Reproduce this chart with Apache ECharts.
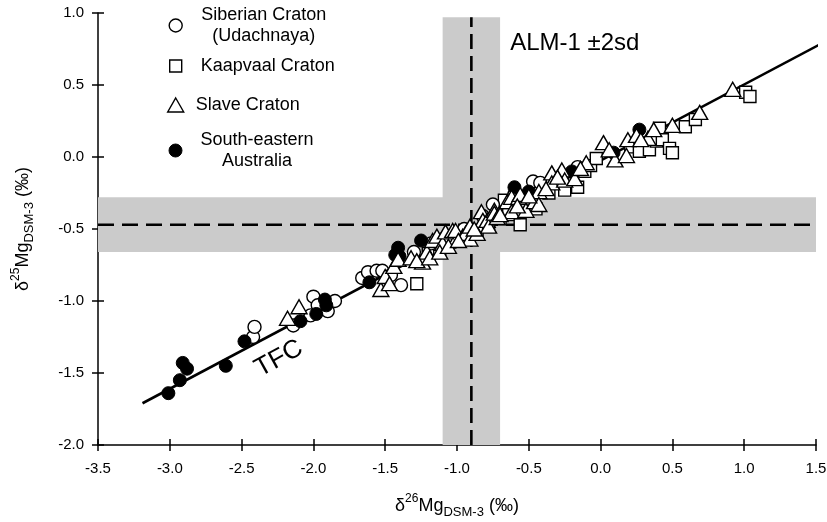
<!DOCTYPE html>
<html>
<head>
<meta charset="utf-8">
<script src="https://cdn.jsdelivr.net/npm/echarts@6/dist/echarts.min.js"></script>
<style>
html,body{margin:0;padding:0;background:#fff;}
#chart{width:827px;height:522px;}
</style>
</head>
<body>
<div id="chart"></div>
<script>
// ---- data ----
const xTicks = [-3.5, -3.0, -2.5, -2.0, -1.5, -1.0, -0.5, 0.0, 0.5, 1.0, 1.5];
const yTicks = [-2.0, -1.5, -1.0, -0.5, 0.0, 0.5, 1.0];

const seriesNames = ['Siberian Craton (Udachnaya)', 'Kaapvaal Craton', 'Slave Craton', 'South-eastern Australia'];

const siberian = [
  [-2.42,-1.25],[-2.41,-1.18],[-2.14,-1.17],[-2.02,-1.10],[-2.00,-0.97],[-1.97,-1.03],
  [-1.90,-1.07],[-1.85,-1.00],[-1.66,-0.84],[-1.62,-0.80],[-1.56,-0.79],[-1.52,-0.79],
  [-1.46,-0.82],[-1.39,-0.89],[-1.30,-0.66],[-1.18,-0.60],[-0.95,-0.50],[-0.75,-0.33],
  [-0.60,-0.26],[-0.47,-0.17],[-0.42,-0.18],[-0.16,-0.07],[-1.08,-0.56],[-0.82,-0.41]
];
const kaapvaal = [
  [-1.28,-0.88],[-1.20,-0.67],[-1.05,-0.59],[-0.95,-0.56],[-0.86,-0.51],[-0.70,-0.43],
  [-0.67,-0.30],[-0.64,-0.40],[-0.56,-0.47],[-0.45,-0.36],[-0.25,-0.23],[-0.16,-0.21],
  [-0.11,-0.10],[-0.07,-0.06],[-0.03,-0.01],[0.21,0.07],[0.27,0.04],[0.34,0.05],
  [0.39,0.11],[0.41,0.20],[0.43,0.12],[0.48,0.06],[0.50,0.03],[0.59,0.21],[0.66,0.26],
  [1.01,0.45],[1.04,0.42],[-1.12,-0.64],[-0.78,-0.46],[-0.36,-0.25]
];
const slave = [
  [-2.18,-1.12],[-2.10,-1.04],[-1.53,-0.92],[-1.50,-0.83],[-1.47,-0.88],[-1.44,-0.76],
  [-1.41,-0.71],[-1.32,-0.70],[-1.24,-0.73],[-1.21,-0.66],[-1.17,-0.58],[-1.14,-0.55],
  [-1.10,-0.60],[-1.08,-0.52],[-1.03,-0.51],[-1.01,-0.51],[-0.96,-0.55],[-0.94,-0.53],
  [-0.91,-0.48],[-0.91,-0.57],[-0.86,-0.53],[-0.83,-0.38],[-0.82,-0.44],[-0.79,-0.44],
  [-0.78,-0.48],[-0.74,-0.37],[-0.74,-0.39],[-0.72,-0.42],[-0.65,-0.31],[-0.62,-0.38],
  [-0.62,-0.28],[-0.57,-0.28],[-0.56,-0.26],[-0.52,-0.37],[-0.46,-0.31],[-0.43,-0.24],
  [-0.43,-0.33],[-0.34,-0.11],[-0.34,-0.18],[-0.27,-0.09],[-0.25,-0.16],[-0.18,-0.15],
  [-0.10,-0.04],[0.02,0.10],[0.10,-0.02],[0.18,0.01],[0.19,0.12],[0.25,0.15],[0.33,0.13],
  [0.37,0.19],[0.50,0.22],[0.69,0.31],[0.92,0.47],
  [-1.28,-0.72],[-1.19,-0.70],[-1.12,-0.66],[-1.06,-0.62],[-0.99,-0.58],[-0.88,-0.50],
  [-0.70,-0.40],[-0.58,-0.34],[-0.50,-0.27],[-0.38,-0.22],[-0.30,-0.14],[-0.14,-0.08],
  [0.06,0.05],[0.28,0.12]
];
const seAustralia = [
  [-3.01,-1.64],[-2.93,-1.55],[-2.91,-1.43],[-2.88,-1.47],[-2.61,-1.45],[-2.48,-1.28],
  [-2.09,-1.14],[-1.98,-1.09],[-1.92,-0.99],[-1.91,-1.03],[-1.61,-0.87],[-1.41,-0.63],
  [-1.43,-0.68],[-1.40,-0.69],[-1.25,-0.58],[-0.60,-0.21],[-0.50,-0.24],[-0.20,-0.10],
  [0.09,0.03],[0.27,0.19]
];
const tfcLine = [[-3.19,-1.71],[1.58,0.81]];
const alm = {d26: -0.90, sd26: 0.20, d25: -0.47, sd25: 0.19};
const bandTop = 0.97, bandRight = 1.52;
const tfcLabelPos = [-2.24, -1.40];
const almLabelPos = [-0.63, 0.79];

// ---- chart ----
const FONT = '"Liberation Sans", Arial, Helvetica, sans-serif';
const chart = echarts.init(document.getElementById('chart'), null, {renderer: 'canvas'});

function nameRich(sup) {
  return {
    text: '{t|δ}{sup|' + sup + '}{t|Mg}{sub|DSM-3}{t| (‰)}',
    rich: {
      t: {fontSize: 18, lineHeight: 26, fontFamily: FONT, color: '#000'},
      sup: {fontSize: 12, lineHeight: 12, verticalAlign: 'top', fontFamily: FONT, color: '#000'},
      sub: {fontSize: 13, lineHeight: 13, verticalAlign: 'bottom', fontFamily: FONT, color: '#000'}
    }
  };
}
const xName = nameRich('26'), yName = nameRich('25');

const openStyle = {color: '#fff', borderColor: '#000', borderWidth: 1.4, opacity: 1};
const fillStyle = {color: '#000', borderColor: '#000', borderWidth: 1, opacity: 1};

function mkLegend(name, icon, w, h, top, lines, boxW, pad, style) {
  return {
    data: [{name: name, icon: icon}],
    orient: 'vertical', left: 175 - w / 2, top: top, padding: 0,
    itemWidth: w, itemHeight: h, selectedMode: false,
    itemStyle: style,
    formatter: function () { return lines.map(l => '{a|' + l + '}').join('\n'); },
    textStyle: {
      padding: [0, 0, 0, pad],
      rich: {a: {fontSize: 18, lineHeight: 21, fontFamily: FONT, color: '#000',
                 width: boxW, align: 'center'}}
    }
  };
}

const xMin = xTicks[0], xMax = xTicks[xTicks.length - 1];
const yMin = yTicks[0], yMax = yTicks[yTicks.length - 1];
const xInt = xTicks[1] - xTicks[0], yInt = yTicks[1] - yTicks[0];

const tickStyle = {color: '#000', width: 1.5};

const option = {
  backgroundColor: '#fff',
  animation: false,
  grid: {left: 98, right: 11, top: 13, bottom: 77, containLabel: false, outerBoundsMode: 'none'},
  legend: [
    mkLegend(seriesNames[0], 'circle', 13, 13, 6, ['Siberian Craton', '(Udachnaya)'], 143, 5, openStyle),
    mkLegend(seriesNames[1], 'rect', 12, 12, 57, ['Kaapvaal Craton'], 150, 6, openStyle),
    mkLegend(seriesNames[2], 'triangle', 16, 14, 96, ['Slave Craton'], 110, 4, openStyle),
    mkLegend(seriesNames[3], 'circle', 13, 13, 131, ['South-eastern', 'Australia'], 130, 5, fillStyle)
  ],
  xAxis: [
    {
      type: 'value', min: xMin, max: xMax, interval: xInt, position: 'bottom',
      name: xName.text, nameLocation: 'middle', nameGap: 48,
      nameTextStyle: {rich: xName.rich},
      axisLine: {show: true, onZero: false, lineStyle: {color: '#000', width: 1.5}},
      splitLine: {show: false},
      axisTick: {show: true, inside: false, length: 6, lineStyle: tickStyle},
      axisLabel: {margin: 16, fontSize: 15, fontFamily: FONT, color: '#000',
                  formatter: v => v.toFixed(1)}
    },
    {
      type: 'value', min: xMin, max: xMax, interval: xInt, position: 'bottom', offset: 0,
      axisLine: {show: false, onZero: false}, splitLine: {show: false}, axisLabel: {show: false},
      axisTick: {show: true, inside: true, length: 6, lineStyle: tickStyle}
    }
  ],
  yAxis: [
    {
      type: 'value', min: yMin, max: yMax, interval: yInt, position: 'left',
      name: yName.text, nameLocation: 'middle', nameGap: 62, nameRotate: 90,
      nameTextStyle: {rich: yName.rich},
      axisLine: {show: true, onZero: false, lineStyle: {color: '#000', width: 1.5}},
      splitLine: {show: false},
      axisTick: {show: true, inside: false, length: 6, lineStyle: tickStyle},
      axisLabel: {margin: 14, fontSize: 15, fontFamily: FONT, color: '#000',
                  formatter: v => v.toFixed(1)}
    },
    {
      type: 'value', min: yMin, max: yMax, interval: yInt, position: 'left', offset: 0,
      axisLine: {show: false, onZero: false}, splitLine: {show: false}, axisLabel: {show: false},
      axisTick: {show: true, inside: true, length: 6, lineStyle: tickStyle}
    }
  ],
  series: [
    { // ALM-1 ±2sd bands
      type: 'line', data: [], z: 1, silent: true,
      markArea: {
        silent: true,
        itemStyle: {color: '#cbcbcb', opacity: 1},
        data: [
          [{coord: [alm.d26 - alm.sd26, yMin]}, {coord: [alm.d26 + alm.sd26, bandTop]}],
          [{coord: [xMin, alm.d25 - alm.sd25]}, {coord: [bandRight, alm.d25 + alm.sd25]}]
        ]
      }
    },
    { // vertical dashed
      type: 'line', z: 2, symbol: 'none', clip: false, silent: true,
      data: [[alm.d26, yMin], [alm.d26, bandTop]],
      lineStyle: {color: '#000', width: 2.6, type: [15, 7]}
    },
    { // horizontal dashed
      type: 'line', z: 2, symbol: 'none', clip: false, silent: true,
      data: [[xMin, alm.d25], [bandRight, alm.d25]],
      lineStyle: {color: '#000', width: 2.6, type: [16, 8]}
    },
    { // TFC line
      type: 'line', z: 3, symbol: 'none', clip: false, silent: true,
      data: tfcLine,
      lineStyle: {color: '#000', width: 2.6}
    },
    {
      name: seriesNames[1], type: 'scatter', z: 5, symbol: 'rect', symbolSize: 12,
      data: kaapvaal, itemStyle: openStyle
    },
    {
      name: seriesNames[0], type: 'scatter', z: 5, symbol: 'circle', symbolSize: 13,
      data: siberian, itemStyle: openStyle
    },
    {
      name: seriesNames[3], type: 'scatter', z: 5, symbol: 'circle', symbolSize: 13,
      data: seAustralia, itemStyle: fillStyle
    },
    {
      name: seriesNames[2], type: 'scatter', z: 6, symbol: 'triangle', symbolSize: [16, 14],
      data: slave, itemStyle: openStyle
    },
    { // annotations
      type: 'scatter', z: 7, symbolSize: 0, silent: true, clip: false,
      itemStyle: {opacity: 1},
      data: [
        {value: tfcLabelPos, label: {show: true, position: 'inside', formatter: 'TFC',
          rotate: 29, fontSize: 26, fontFamily: FONT, color: '#000', opacity: 1}},
        {value: almLabelPos, label: {show: true, position: 'right', distance: 0, formatter: 'ALM-1 ±2sd',
          fontSize: 24, fontFamily: FONT, color: '#000', opacity: 1}}
      ]
    }
  ]
};
chart.setOption(option);
</script>
</body>
</html>
